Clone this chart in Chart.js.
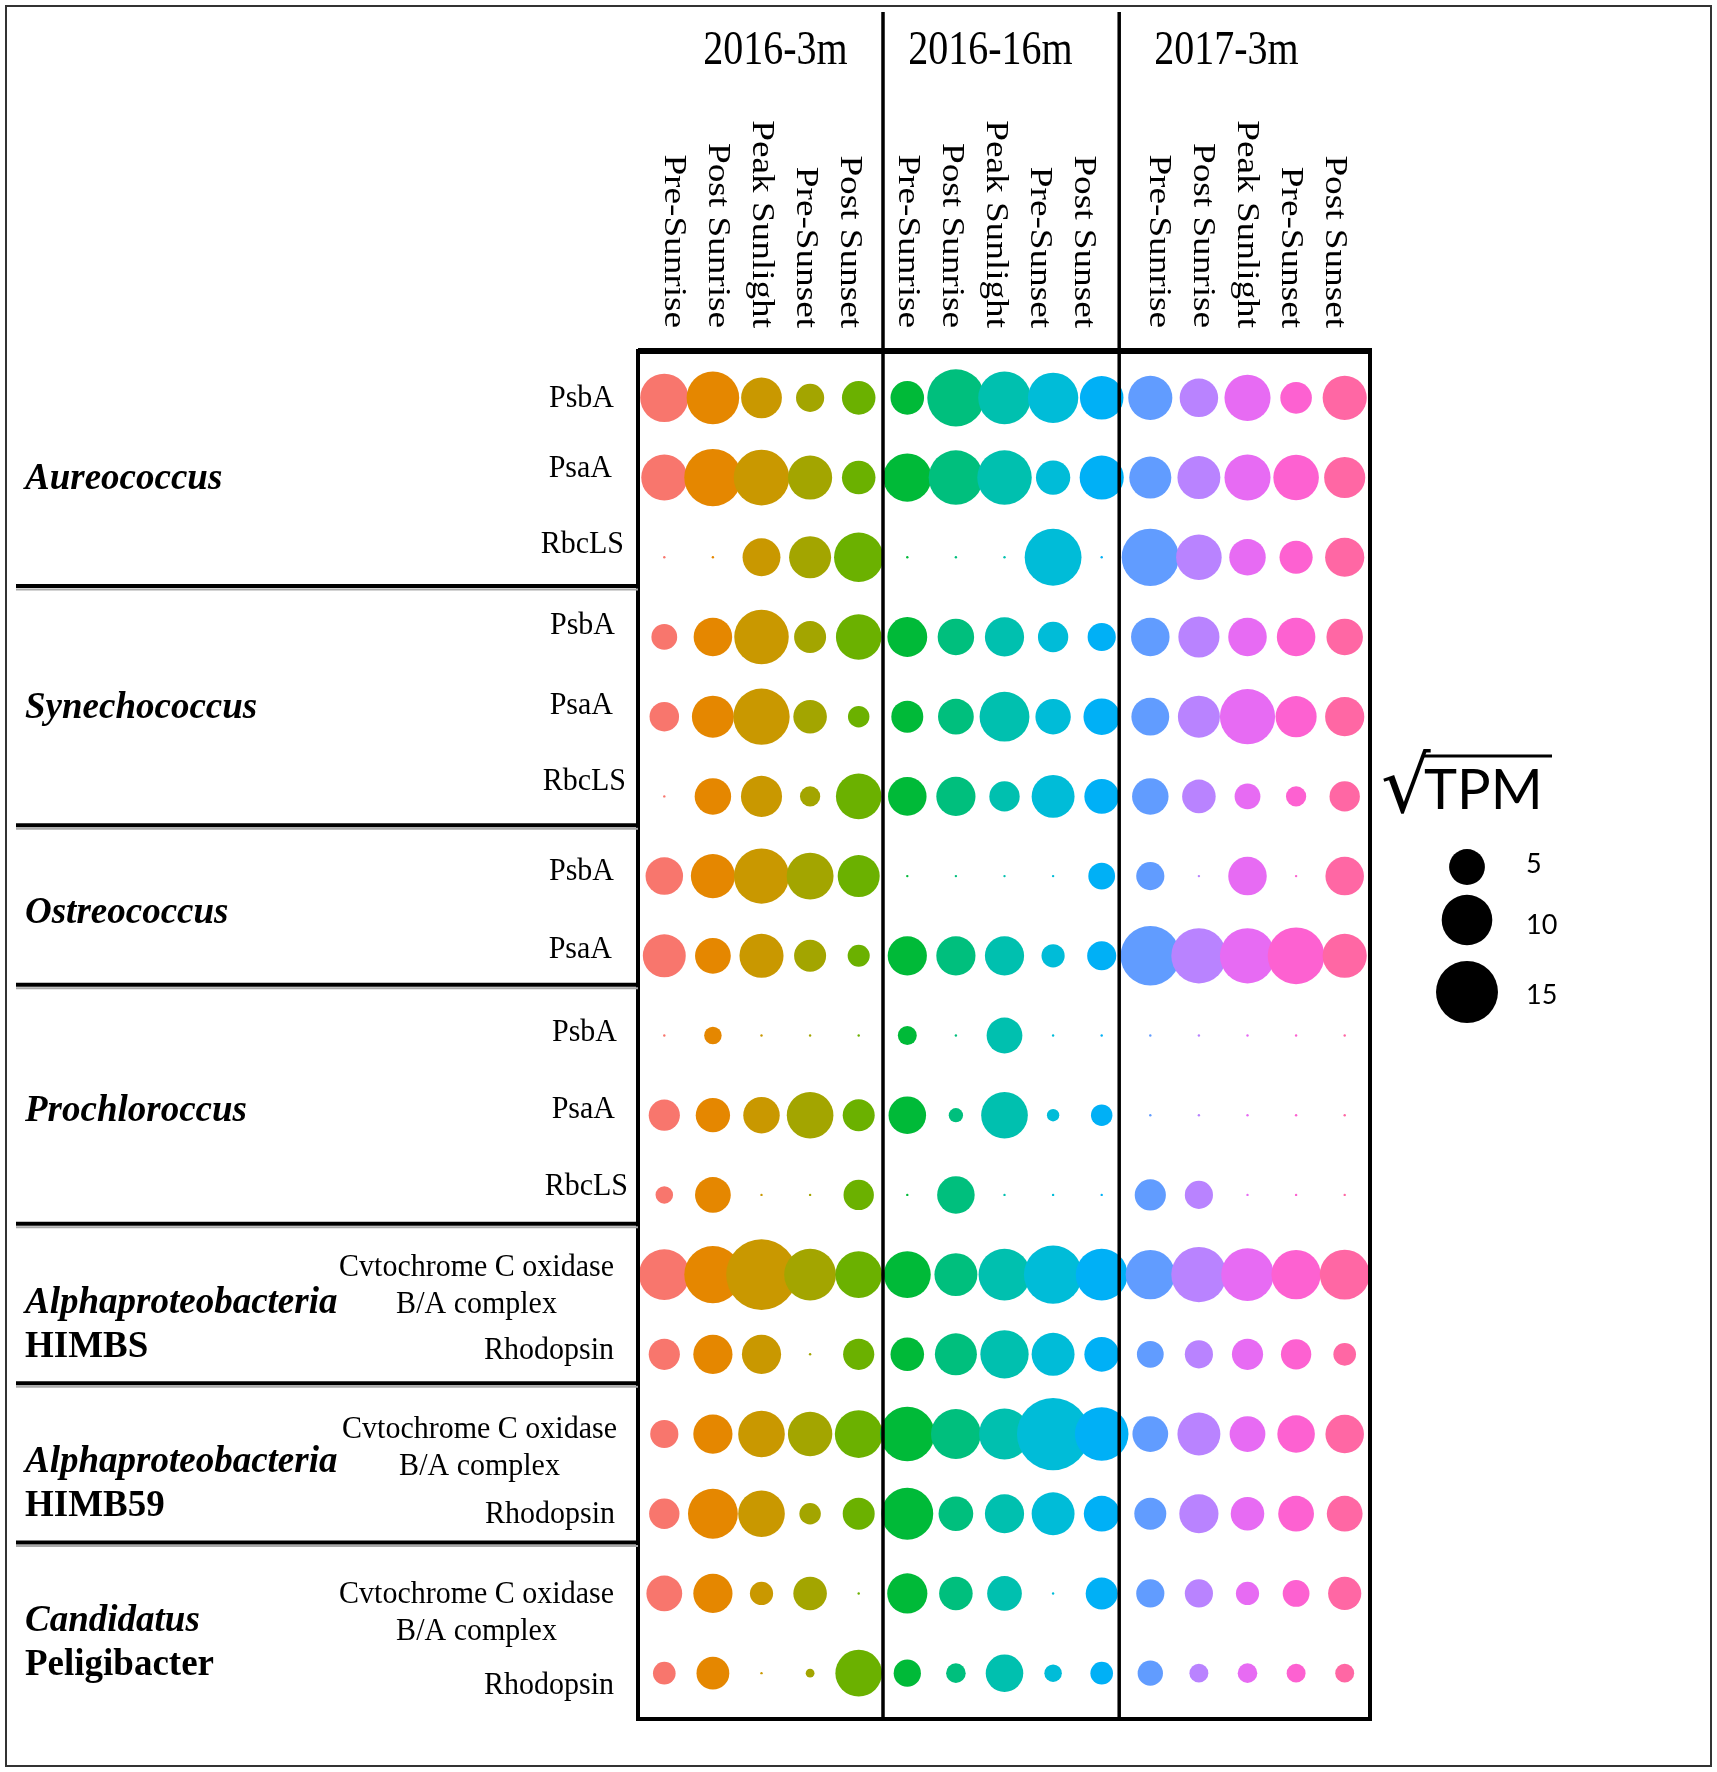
<!DOCTYPE html>
<html>
<head>
<meta charset="utf-8">
<script src="https://cdn.jsdelivr.net/npm/chart.js@4.4.1/dist/chart.umd.min.js"></script>
<style>
  html, body { margin: 0; padding: 0; background: #ffffff; }
  #wrap { width: 1717px; height: 1772px; position: relative; }
</style>
</head>
<body>
<div id="wrap"><canvas id="c"></canvas></div>
<script>
// ---------------- DATA ----------------
const sites = ['2016-3m', '2016-16m', '2017-3m'];
const timepoints = ['Pre-Sunrise', 'Post Sunrise', 'Peak Sunlight', 'Pre-Sunset', 'Post Sunset'];

const taxaNames = [
  ['Aureococcus'], ['Synechococcus'], ['Ostreococcus'], ['Prochloroccus'],
  ['Alphaproteobacteria', 'HIMBS'], ['Alphaproteobacteria', 'HIMB59'], ['Candidatus', 'Peligibacter']
];
const taxaRowCounts = [3, 3, 2, 3, 2, 2, 2];

const geneLabels = [
  ['PsbA'], ['PsaA'], ['RbcLS'],
  ['PsbA'], ['PsaA'], ['RbcLS'],
  ['PsbA'], ['PsaA'],
  ['PsbA'], ['PsaA'], ['RbcLS'],
  ['Cvtochrome C oxidase', 'B/A complex'], ['Rhodopsin'],
  ['Cvtochrome C oxidase', 'B/A complex'], ['Rhodopsin'],
  ['Cvtochrome C oxidase', 'B/A complex'], ['Rhodopsin']
];

// sqrt(TPM) values, 15 columns: 3 sites x 5 timepoints
const aureoPsbA  = [9.1, 10.8, 6.5, 3.1, 4.4, 4.4, 12.8, 10.8, 9.9, 7.4, 7.6, 5.8, 8.3, 3.9, 7.6];
const aureoPsaA  = [8.3, 12.8, 12.1, 7.6, 4.4, 9.1, 11.6, 11.6, 4.6, 7.6, 6.9, 7.2, 8.3, 8.1, 6.6];
const aureoRbcLS = [0, 0, 5.6, 6.9, 9.5, 0, 0, 0, 12.6, 0, 12.8, 8.1, 5.2, 4.3, 6.0];
const synPsbA    = [2.6, 5.8, 11.6, 4.0, 8.1, 6.2, 5.2, 6.0, 3.6, 3.1, 5.8, 6.6, 5.8, 5.8, 5.2];
const synPsaA    = [3.4, 6.9, 12.4, 4.4, 1.8, 4.0, 5.0, 9.7, 4.9, 5.2, 5.6, 6.9, 11.9, 6.6, 6.0];
const synRbcLS   = [0, 5.2, 6.6, 1.6, 8.1, 5.8, 6.0, 3.6, 7.2, 4.7, 5.2, 4.4, 2.6, 1.6, 3.6];
const ostPsbA    = [5.5, 7.6, 11.9, 8.6, 6.9, 0, 0, 0, 0, 2.8, 3.1, 0, 5.8, 0, 5.8];
const ostPsaA    = [7.2, 5.0, 7.6, 4.0, 1.9, 6.0, 6.0, 6.0, 2.1, 3.3, 13.8, 11.9, 11.9, 12.6, 7.6];
const proPsbA    = [0, 1.2, 0, 0, 0, 1.4, 0, 5.0, 0, 0, 0, 0, 0, 0, 0];
const proPsaA    = [3.8, 4.6, 5.2, 8.5, 4.0, 5.5, 0.8, 8.5, 0.6, 1.8, 0, 0, 0, 0, 0];
const proRbcLS   = [1.2, 5.0, 0, 0, 3.6, 0, 5.5, 0, 0, 0, 3.8, 3.1, 0, 0, 0];
const himbsCox   = [10.1, 12.8, 19.5, 10.5, 8.5, 8.6, 7.2, 10.5, 13.3, 10.5, 9.5, 11.9, 10.8, 9.5, 9.7];
const himbsRhod  = [3.8, 6.0, 6.0, 0, 3.8, 4.4, 6.9, 9.1, 7.2, 4.7, 2.8, 3.1, 3.8, 3.6, 2.0];
const himb59Cox  = [3.1, 6.0, 8.5, 7.7, 8.9, 11.6, 9.7, 10.1, 20.4, 11.2, 5.0, 7.2, 5.0, 5.5, 5.8];
const himb59Rhod = [3.6, 9.7, 8.5, 1.8, 4.0, 10.5, 4.7, 6.0, 7.2, 5.0, 4.0, 6.0, 4.4, 5.0, 5.0];
const pelCox     = [5.0, 6.0, 2.1, 4.4, 0, 6.3, 4.4, 4.7, 0, 4.0, 3.1, 3.1, 2.1, 2.8, 4.3];
const pelRhod    = [2.0, 4.2, 0, 0.3, 8.5, 2.9, 1.5, 5.5, 1.2, 2.0, 2.5, 1.4, 1.5, 1.4, 1.4];

const rowValues = [aureoPsbA, aureoPsaA, aureoRbcLS, synPsbA, synPsaA, synRbcLS, ostPsbA, ostPsaA,
  proPsbA, proPsaA, proRbcLS, himbsCox, himbsRhod, himb59Cox, himb59Rhod, pelCox, pelRhod];

const legendValues = [5, 10, 15];

// ---------------- STYLE ----------------
const palette = ['#F8766D', '#E58700', '#C99800', '#A3A500', '#6BB100', '#00BA38', '#00BF7D', '#00C0AF',
  '#00BCD8', '#00B0F6', '#619CFF', '#B983FF', '#E76BF3', '#FD61D1', '#FF67A4'];
const serif = '"Liberation Serif", "Times New Roman", serif';
const sans = 'Lato, "Open Sans", sans-serif';
const geneLabelDy = [1, -9, -13, -11, -11, -15, -5, -6, -3, -6, -8, -7, -4, -5, 1, 1, 12];
const geneLabelDx = [0, -2, 10, 1, -1, 12, 0, -2, 3, 1, 14, 0, 0, 3, 1, 0, 0];
const taxaDy = [1, -9, -3, -4, 10, 10, 10];
const siteTitleDx = [14, -14, -21];
const colLabelGroupDx = [1, -8, 0];
const colLabelStep = 44;
const separatorValues = [4.5, 9.36];

function sizeOf(v) { return v > 0 ? 8 * Math.sqrt(v) : 1.2; }

const nCols = sites.length * timepoints.length;
const datasets = rowValues.map((vals, r) => ({
  label: geneLabels[r].join(' '),
  data: vals.map((v, c) => ({ x: c, y: r, r: sizeOf(v), v: v })),
  backgroundColor: vals.map((v, c) => palette[c]),
  borderWidth: 0,
  clip: false
}));

function txt(ctx, s, x, y, o) {
  ctx.save();
  ctx.translate(x, y);
  if (o.rot) ctx.rotate(o.rot);
  ctx.scale(o.sx || 1, o.sy || 1);
  ctx.font = o.font;
  ctx.fillStyle = o.color || '#000';
  ctx.textAlign = o.align || 'left';
  ctx.textBaseline = o.baseline || 'alphabetic';
  ctx.fillText(s, 0, 0);
  ctx.restore();
}

const decor = {
  id: 'decor',
  beforeDraw(chart) {
    const ctx = chart.ctx;
    ctx.save();
    ctx.fillStyle = '#fff';
    ctx.fillRect(0, 0, chart.width, chart.height);
    ctx.restore();
  },
  afterDatasetsDraw(chart) {
    const ctx = chart.ctx;
    const xs = chart.scales.x, ys = chart.scales.y;
    const ca = chart.chartArea;
    const fTop = ca.top - 7, fBot = ca.bottom + 6, fLeft = ca.left - 2, fRight = ca.right + 1;
    ctx.save();
    // outer border
    ctx.strokeStyle = '#333';
    ctx.lineWidth = 2;
    ctx.strokeRect(6, 6, 1705, 1760);
    // plot frame
    ctx.strokeStyle = '#000';
    ctx.lineWidth = 4;
    ctx.strokeRect(fLeft, fTop, fRight - fLeft, fBot - fTop);
    ctx.lineWidth = 6;
    ctx.beginPath(); ctx.moveTo(fLeft, fTop); ctx.lineTo(fRight + 2, fTop); ctx.stroke();
    // site separators
    ctx.lineWidth = 3.5;
    separatorValues.forEach(v => {
      const x = xs.getPixelForValue(v);
      ctx.beginPath(); ctx.moveTo(x, 12); ctx.lineTo(x, fBot); ctx.stroke();
    });
    // taxa separators (left panel)
    let start = 0;
    const groupBounds = [];
    taxaRowCounts.forEach((n, g) => {
      const a = start, b = start + n - 1;
      groupBounds.push([a, b]);
      if (g < taxaRowCounts.length - 1) {
        const y = ys.getPixelForValue(b + 0.5) - 11;
        ctx.strokeStyle = '#aaa'; ctx.lineWidth = 2;
        ctx.beginPath(); ctx.moveTo(16, y + 3.5); ctx.lineTo(fLeft, y + 3.5); ctx.stroke();
        ctx.strokeStyle = '#000'; ctx.lineWidth = 4;
        ctx.beginPath(); ctx.moveTo(16, y); ctx.lineTo(fLeft, y); ctx.stroke();
      }
      start += n;
    });
    ctx.restore();

    // site titles
    sites.forEach((s, i) => {
      const x = xs.getPixelForValue(i * 5 + 2) + siteTitleDx[i];
      txt(ctx, s, x, 64, { font: '40px ' + serif, align: 'center', sy: 1.2 });
    });
    // column labels (rotated, reading downward, stretched along the text)
    sites.forEach((s, g) => {
      const x0 = xs.getPixelForValue(g * 5) + colLabelGroupDx[g];
      timepoints.forEach((t, k) => {
        txt(ctx, t, x0 + k * colLabelStep, 328, { font: '31px ' + serif, align: 'right', rot: Math.PI / 2, sx: 1.2 });
      });
    });
    // gene labels
    geneLabels.forEach((lines, r) => {
      const y = ys.getPixelForValue(r) + geneLabelDy[r];
      const right = 614 + geneLabelDx[r];
      const f = '30px ' + serif;
      if (lines.length === 1) {
        txt(ctx, lines[0], right, y, { font: f, align: 'right', baseline: 'middle', sy: 1.08 });
      } else {
        ctx.save(); ctx.font = f; const w = ctx.measureText(lines[0]).width; ctx.restore();
        const cx = right - w / 2;
        lines.forEach((ln, k) => txt(ctx, ln, cx, y + k * 37, { font: f, align: 'center', baseline: 'middle', sy: 1.08 }));
      }
    });
    // taxa labels
    taxaNames.forEach((lines, g) => {
      const [a, b] = groupBounds[g];
      const yc = (ys.getPixelForValue(a) + ys.getPixelForValue(b)) / 2 + taxaDy[g];
      const n = lines.length;
      lines.forEach((ln, k) => {
        const y = yc + (k - (n - 1) / 2) * 44;
        const style = (k === 0) ? 'italic bold ' : 'bold ';
        txt(ctx, ln, 25, y, { font: style + '37px ' + serif, align: 'left', baseline: 'middle', sy: 1.05 });
      });
    });
    // size legend
    txt(ctx, '\u221A', 1381, 812, { font: '78px "DejaVu Sans", sans-serif' });
    txt(ctx, 'TPM', 1424, 809, { font: '56px ' + sans });
    ctx.save();
    ctx.strokeStyle = '#000'; ctx.lineWidth = 3;
    ctx.beginPath(); ctx.moveTo(1422, 756); ctx.lineTo(1552, 756); ctx.stroke();
    const legY = [867, 920, 992];
    const legTextY = [864, 925, 995];
    legendValues.forEach((v, i) => {
      ctx.fillStyle = '#000';
      ctx.beginPath(); ctx.arc(1467, legY[i], sizeOf(v), 0, Math.PI * 2); ctx.fill();
      txt(ctx, String(v), 1526, legTextY[i], { font: '27px ' + sans, baseline: 'middle' });
    });
    ctx.restore();
  }
};

new Chart(document.getElementById('c'), {
  type: 'bubble',
  data: { datasets },
  options: {
    responsive: true,
    maintainAspectRatio: false,
    devicePixelRatio: 1,
    animation: false,
    layout: { padding: { left: 640, right: 348, top: 358, bottom: 59 } },
    scales: {
      x: { type: 'linear', min: -0.5, max: nCols - 0.5, display: false },
      y: { type: 'linear', min: -0.5, max: rowValues.length - 0.5, reverse: true, display: false }
    },
    plugins: { legend: { display: false }, tooltip: { enabled: false } },
    events: []
  },
  plugins: [decor]
});
</script>
</body>
</html>
